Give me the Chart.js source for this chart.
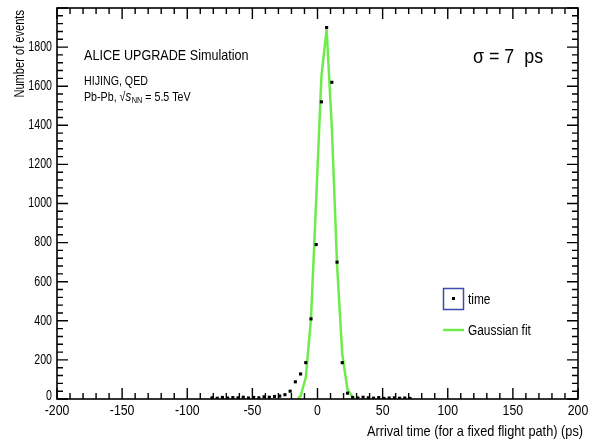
<!DOCTYPE html>
<html>
<head>
<meta charset="utf-8">
<script src="https://cdn.jsdelivr.net/npm/chart.js@4.4.1/dist/chart.umd.min.js"></script>
<style>
    body { margin: 0; background: #ffffff; }
</style>
</head>
<body>
<canvas id="arrivalChart" width="602" height="443"></canvas>
<script>
// histogram bins (centres, ps) and counts
const timeX = [-81, -77, -73, -69, -65, -61, -57, -53, -49, -45, -41, -37, -33, -29, -25, -21, -17, -13, -9, -5, -1, 3, 7, 11, 15, 19, 23, 27, 31, 35, 39, 43, 47, 51, 55, 59, 63, 67, 71];
const timeY = [6, 4, 8, 5, 7, 6, 9, 5, 8, 6, 11, 9, 13, 15, 22, 40, 88, 128, 186, 410, 790, 1520, 1900, 1620, 700, 186, 30, 8, 5, 9, 6, 4, 7, 3, 5, 6, 4, 5, 3];

// gaussian fit polyline, vertices
const fitX = [-15, -13, -9, -5, -1, 3, 7, 11, 15, 19, 23, 27];
const fitY = [4, 15, 110, 410, 1020, 1650, 1890, 1390, 690, 229, 50, 8];

const xTicks = [-200, -150, -100, -50, 0, 50, 100, 150, 200];
const yTicks = [0, 200, 400, 600, 800, 1000, 1200, 1400, 1600, 1800];

const FONT = '"Liberation Sans", Arial, sans-serif';

// ROOT text looks narrow, so squeeze it horizontally
function txt(ctx, s, x, y, size, align, sx, base, style) {
    ctx.save();
    ctx.translate(x, y);
    ctx.scale(sx, 1);
    ctx.font = (style || '') + ' ' + size + 'px ' + FONT;
    ctx.textAlign = align;
    ctx.textBaseline = base || 'middle';
    ctx.fillStyle = '#000';
    ctx.fillText(s, 0, 0);
    ctx.restore();
}

function textWidth(ctx, s, size, sx, style) {
    ctx.save();
    ctx.font = (style || '') + ' ' + size + 'px ' + FONT;
    const w = ctx.measureText(s).width * sx;
    ctx.restore();
    return w;
}

const rootFrame = {
    id: 'rootFrame',
    afterDatasetsDraw(chart) {
        const ctx = chart.ctx;
        const a = chart.chartArea;
        const xs = chart.scales.x;
        const ys = chart.scales.y;

        ctx.save();
        ctx.strokeStyle = '#000';
        ctx.lineWidth = 1.6;
        ctx.strokeRect(a.left, a.top, a.right - a.left, a.bottom - a.top);

        ctx.lineWidth = 1.4;
        ctx.beginPath();
        for (let v = -200; v <= 200; v += 10) {
            const px = xs.getPixelForValue(v);
            const len = v % 50 === 0 ? 11 : 6;
            ctx.moveTo(px, a.bottom);
            ctx.lineTo(px, a.bottom - len);
            ctx.moveTo(px, a.top);
            ctx.lineTo(px, a.top + len);
        }
        for (let v = 0; v <= 2000; v += 40) {
            const py = ys.getPixelForValue(v);
            const len = v % 200 === 0 ? 11 : 6;
            ctx.moveTo(a.left, py);
            ctx.lineTo(a.left + len, py);
            ctx.moveTo(a.right, py);
            ctx.lineTo(a.right - len, py);
        }
        ctx.stroke();
        ctx.restore();

        xTicks.forEach(v => txt(ctx, String(v), xs.getPixelForValue(v), 411, 14, 'center', 0.88));
        yTicks.forEach(v => txt(ctx, String(v), 52, ys.getPixelForValue(v) - (v === 0 ? 3 : 0), 14, 'right', 0.76));

        // axis titles
        txt(ctx, 'Arrival time (for a fixed flight path) (ps)', 583, 436, 15, 'right', 0.85, 'alphabetic');
        ctx.save();
        ctx.translate(24, 10);
        ctx.rotate(-Math.PI / 2);
        txt(ctx, 'Number of events', 0, 0, 15, 'right', 0.74, 'alphabetic');
        ctx.restore();

        // labels
        txt(ctx, 'ALICE UPGRADE Simulation', 84, 56, 15, 'left', 0.84);
        txt(ctx, 'HIJING, QED', 84, 81, 13, 'left', 0.82);

        const sx = 0.82;
        let x = 84;
        txt(ctx, 'Pb-Pb, ', x, 97, 13, 'left', sx);
        x += textWidth(ctx, 'Pb-Pb, ', 13, sx);
        txt(ctx, '\u221A', x, 97, 13, 'left', sx);
        x += textWidth(ctx, '\u221A', 13, sx);
        txt(ctx, 's', x, 97, 14, 'left', sx, 'middle', 'italic');
        x += textWidth(ctx, 's', 14, sx, 'italic') + 0.5;
        txt(ctx, 'NN', x, 101, 9, 'left', sx);
        x += textWidth(ctx, 'NN', 9, sx);
        txt(ctx, ' = 5.5 TeV', x, 97, 13, 'left', sx);

        txt(ctx, '\u03C3 = 7  ps', 473, 57, 21, 'left', 0.85);

        // legend
        ctx.save();
        ctx.strokeStyle = '#3b4bb0';
        ctx.lineWidth = 1.5;
        ctx.strokeRect(443.5, 288.5, 20, 21);
        ctx.fillStyle = '#000';
        ctx.fillRect(452, 297, 3, 3);
        ctx.strokeStyle = '#6dec4b';
        ctx.lineWidth = 2.5;
        ctx.beginPath();
        ctx.moveTo(443, 330);
        ctx.lineTo(464, 330);
        ctx.stroke();
        ctx.restore();
        txt(ctx, 'time', 468, 300, 14, 'left', 0.85);
        txt(ctx, 'Gaussian fit', 468, 331, 14, 'left', 0.85);
    }
};

new Chart(document.getElementById('arrivalChart'), {
    type: 'scatter',
    data: {
        datasets: [{
            label: 'time',
            data: timeX.map((x, i) => ({ x: x, y: timeY[i] })),
            pointStyle: 'rect',
            pointRadius: 2.2,
            backgroundColor: '#000000',
            borderWidth: 0,
            showLine: false
        }, {
            label: 'Gaussian fit',
            data: fitX.map((x, i) => ({ x: x, y: fitY[i] })),
            showLine: true,
            borderColor: '#6dec4b',
            borderWidth: 2.5,
            pointRadius: 0,
            tension: 0
        }]
    },
    options: {
        responsive: false,
        animation: false,
        layout: { padding: { left: 57, right: 24, top: 8, bottom: 44 } },
        scales: {
            x: { type: 'linear', min: -200, max: 200, display: false },
            y: { min: 0, max: 2000, display: false }
        },
        plugins: {
            legend: { display: false },
            tooltip: { enabled: false }
        }
    },
    plugins: [rootFrame]
});
</script>
</body>
</html>
